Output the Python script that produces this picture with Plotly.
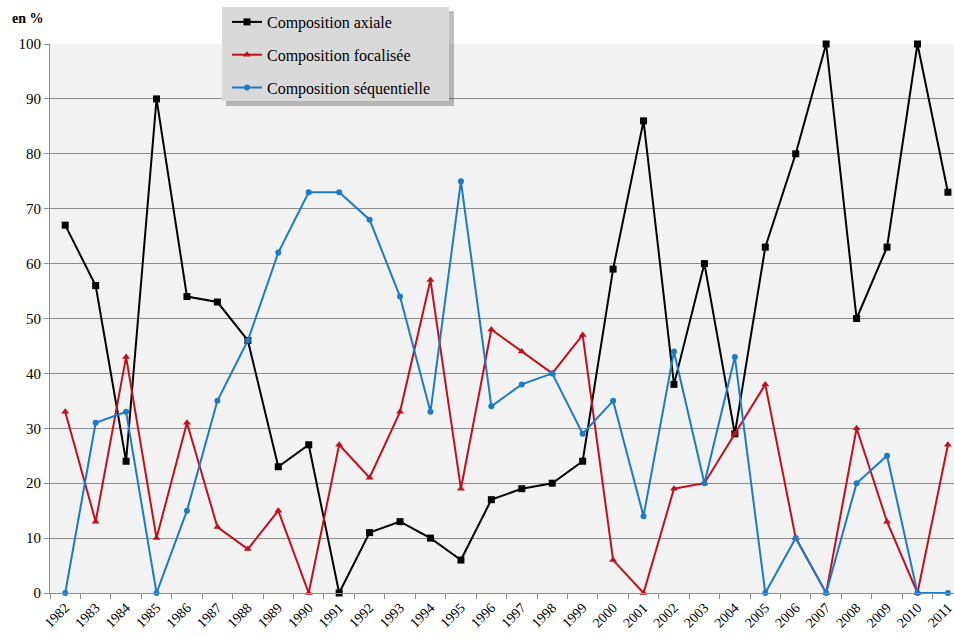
import plotly.graph_objects as go

years = [str(y) for y in range(1982, 2012)]
axiale = [67, 56, 24, 90, 54, 53, 46, 23, 27, 0, 11, 13, 10, 6, 17, 19, 20, 24, 59, 86, 38, 60, 29, 63, 80, 100, 50, 63, 100, 73]
focalisee = [33, 13, 43, 10, 31, 12, 8, 15, 0, 27, 21, 33, 57, 19, 48, 44, 40, 47, 6, 0, 19, 20, 29, 38, 10, 0, 30, 13, 0, 27]
sequentielle = [0, 31, 33, 0, 15, 35, 46, 62, 73, 73, 68, 54, 33, 75, 34, 38, 40, 29, 35, 14, 44, 20, 43, 0, 10, 0, 20, 25, 0, 0]
names = ["Composition axiale", "Composition focalisée", "Composition séquentielle"]
colors = ["#000000", "#c0101c", "#1b7bc4"]
symbols = ["square", "triangle-up", "circle"]
sizes = [7, 7, 6]

W, H = 954, 636
L, R, T, B = 50, 0, 44, 43
pw, ph = W - L - R, H - T - B

def px(x):
    return (x - L) / pw

def py(y):
    return (H - B - y) / ph

fig = go.Figure()
for i, (nm, vals) in enumerate(zip(names, [axiale, focalisee, sequentielle])):
    fig.add_trace(go.Scatter(
        x=years, y=vals, name=nm, mode="lines+markers",
        line=dict(color=colors[i], width=2),
        marker=dict(symbol=symbols[i], size=sizes[i], color=colors[i]),
        legendgroup=f"g{i}", cliponaxis=False,
    ))

font_fam = "Liberation Serif, Times New Roman, serif"

fig.update_layout(
    width=W, height=H,
    margin=dict(l=L, r=R, t=T, b=B, autoexpand=False),
    paper_bgcolor="white",
    plot_bgcolor="#f2f2f2",
    font=dict(family=font_fam, size=15, color="#000000"),
    showlegend=True,
    legend=dict(
        x=px(227), y=py(5), xanchor="left", yanchor="top",
        bgcolor="rgba(0,0,0,0)", borderwidth=0,
        font=dict(family=font_fam, size=16, color="#000000"),
        tracegroupgap=9, itemwidth=30,
    ),
    xaxis=dict(
        type="category", range=[-0.5, 29.2], automargin=False,
        tickson="boundaries", ticks="outside", ticklen=5, tickcolor="#8c8c8c",
        showgrid=False, showline=True, linecolor="#8c8c8c", linewidth=1,
        tickangle=-45, tickfont=dict(family=font_fam, size=14),
        zeroline=False,
    ),
    yaxis=dict(
        range=[0, 100], tickvals=list(range(0, 101, 10)), automargin=False,
        ticks="outside", ticklen=5, tickcolor="#8c8c8c",
        showgrid=True, gridcolor="#8c8c8c", gridwidth=1,
        showline=True, linecolor="#8c8c8c", linewidth=1,
        zeroline=False, tickfont=dict(family=font_fam, size=15),
    ),
    shapes=[
        dict(type="rect", xref="paper", yref="paper",
             x0=px(226), x1=px(454), y0=py(106), y1=py(11),
             fillcolor="rgba(0,0,0,0.25)", line=dict(width=0), layer="above"),
        dict(type="rect", xref="paper", yref="paper",
             x0=px(222), x1=px(449), y0=py(101), y1=py(7),
             fillcolor="#d9d9d9", line=dict(width=0), layer="above"),
    ],
    annotations=[dict(
        text="<b>en %</b>", xref="paper", yref="paper",
        x=px(10), y=py(18), xanchor="left", yanchor="middle",
        showarrow=False, font=dict(family=font_fam, size=14, color="#000000"),
    )],
)

fig.write_html(
    "out.html",
    config={"displayModeBar": False},
    post_script="document.body.style.margin='0';document.body.style.overflow='hidden';",
)
